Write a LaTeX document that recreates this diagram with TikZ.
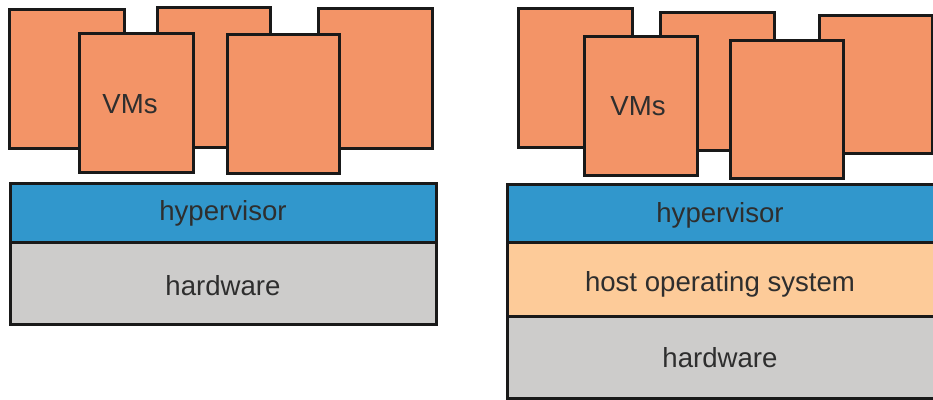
\documentclass[tikz,border=0pt]{standalone}
\usepackage{fontspec}
\setmainfont{Liberation Sans}
\definecolor{vmorange}{HTML}{F39467}
\definecolor{hypblue}{HTML}{3197CC}
\definecolor{hostpeach}{HTML}{FDCB99}
\definecolor{hwgray}{HTML}{CDCCCB}
\definecolor{txt}{HTML}{2E2E2E}
\begin{document}
\begin{tikzpicture}[x=1pt,y=-1pt,
  vm/.style={draw=black!90,line width=3pt,fill=vmorange},
  layer/.style={draw=black!90,line width=3pt},
  lbl/.style={text=txt,font=\fontsize{27.6}{31}\selectfont}]
\useasboundingbox (0,0) rectangle (933,399);
% ---------- left: type 1 ----------
\filldraw[vm] (9,9) rectangle (124,148) coordinate (la);
\filldraw[vm] (157,7) rectangle (270,147) coordinate (lb);
\filldraw[vm] (318,8) rectangle (432,148) coordinate (lc);
\filldraw[vm] (79,33) rectangle (193,172) coordinate (ld);
\filldraw[vm] (227,34) rectangle (339,173) coordinate (le);
\node[lbl] (lvms) at (130,104) {VMs};
\filldraw[layer,fill=hypblue] (10,183) rectangle (436,242);
\node[lbl] (lhyp) at (223,213) {hypervisor};
\filldraw[layer,fill=hwgray] (10,242) rectangle (436,324);
\node[lbl] (lhw) at (223,286) {hardware};
% ---------- right: type 2 ----------
\filldraw[vm] (518,8) rectangle (632,147) coordinate (ra);
\filldraw[vm] (660,12) rectangle (774,150) coordinate (rb);
\filldraw[vm] (819,15) rectangle (932,153) coordinate (rc);
\filldraw[vm] (584,36) rectangle (697,175) coordinate (rd);
\filldraw[vm] (730,40) rectangle (843,178) coordinate (re);
\node[lbl] (rvms) at (638,106) {VMs};
\filldraw[layer,fill=hypblue] (507,184) rectangle (936,242);
\node[lbl] (rhyp) at (720,215) {hypervisor};
\filldraw[layer,fill=hostpeach] (507,242) rectangle (936,316);
\node[lbl] (rhost) at (720,284) {host operating system};
\filldraw[layer,fill=hwgray] (507,316) rectangle (936,398);
\node[lbl] (rhw) at (720,358) {hardware};
\end{tikzpicture}
\end{document}
